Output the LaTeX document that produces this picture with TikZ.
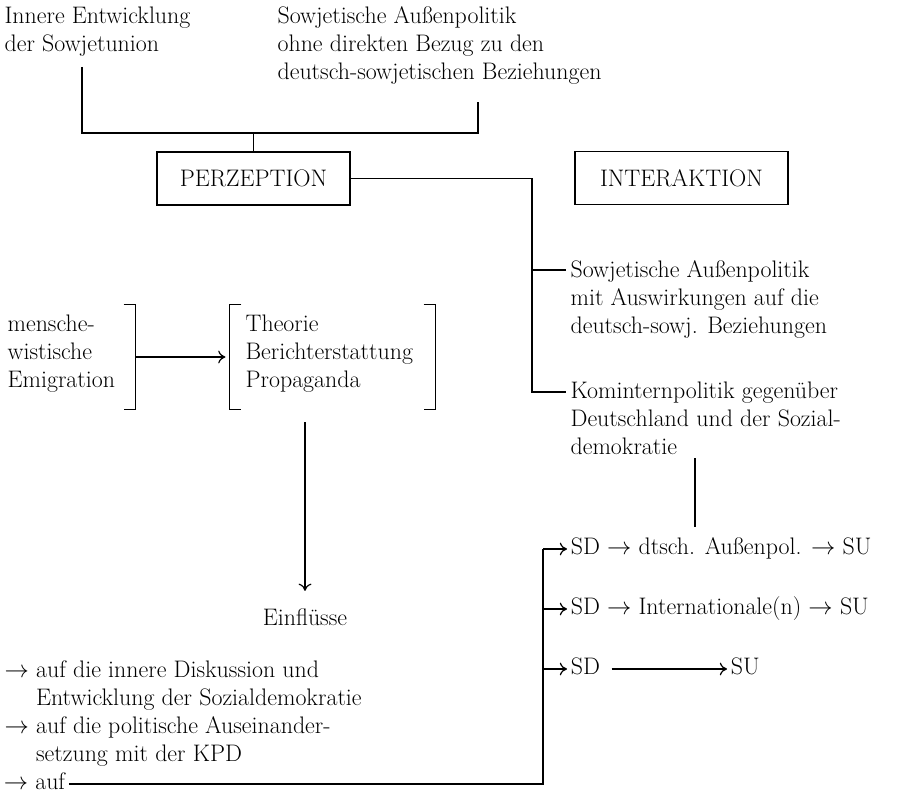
\documentclass[tikz,border=0pt]{standalone}
\usepackage{fontspec}
\usetikzlibrary{arrows.meta,positioning,calc}
\newcommand{\lblfont}{\fontsize{17}{19.9}\selectfont}

\begin{document}
\begin{tikzpicture}[
        line width=0.85pt,
        txt/.style={align=left, inner ysep=0pt, inner xsep=0.1cm, font=\lblfont},
        box/.style={draw, inner sep=0pt, minimum height=1.325cm, font=\lblfont},
        row/.style={inner ysep=0pt, inner xsep=0.08cm, text height=12pt,
            text depth=3.5pt, anchor=west, font=\lblfont},
        frame/.style={inner sep=0pt, minimum height=2.6cm},
        arr/.style={-{To[length=1.8mm, width=3.2mm]}},
    ]
        \useasboundingbox (0,0) rectangle (22.525,-20.125);

        % Sources of perception
        \node[txt, anchor=north west] (inner_dev) at (0,-0.16) {
            Innere Entwicklung\\
            der Sowjetunion
        };
        \node[txt, anchor=north west] (foreign_pol) at (6.825,-0.16) {
            Sowjetische Außenpolitik\\
            ohne direkten Bezug zu den\\
            deutsch-sowjetischen Beziehungen
        };

        % Main boxes
        \node[box, minimum width=4.825cm] (perz) at (6.3375,-4.4625) {PERZEPTION};
        \node[box, minimum width=5.325cm] (inter) at (17.0375,-4.45) {INTERAKTION};

        \coordinate (inner_foot) at (2.05,-1.675);
        \coordinate (foreign_foot) at (11.95,-2.55);
        \coordinate (join) at (6.3375,-3.325);
        \draw (inner_foot) |- (join) -| (foreign_foot);
        \draw (join) -- (perz.north);

        % Interaction side
        \node[txt, anchor=north west] (soviet_ext) at (14.15,-6.5) {
            Sowjetische Außenpolitik\\
            mit Auswirkungen auf die\\
            deutsch-sowj. Beziehungen
        };
        \node[txt, anchor=north west] (komintern) at (14.15,-9.525) {
            Kominternpolitik gegenüber\\
            Deutschland und der Sozial-\\
            demokratie
        };

        \coordinate (trunk) at (13.3,-9.8);
        \coordinate (branch) at (13.3,-6.75);
        \draw (perz.east) -| (trunk) -- (trunk -| komintern.west);
        \draw (branch) -- (branch -| soviet_ext.west);

        % Emigration and media
        \node[frame, minimum width=3.3cm] (emig_frame) at (1.725,-8.925) {};
        \node[frame, minimum width=5.125cm] (media_frame) at (8.3125,-8.925) {};
        \node[txt, anchor=north west] (emig) at (0.075,-7.85) {
            mensche-\\
            wistische\\
            Emigration
        };
        \node[txt, anchor=north west] (media) at (6.025,-7.85) {
            Theorie\\
            Berichterstattung\\
            Propaganda
        };
        \draw ([xshift=-0.3cm]emig_frame.north east) -- (emig_frame.north east)
            -- (emig_frame.south east) -- ++(-0.3,0);
        \draw ([xshift=0.3cm]media_frame.north west) -- (media_frame.north west)
            -- (media_frame.south west) -- ++(0.3,0);
        \draw ([xshift=-0.3cm]media_frame.north east) -- (media_frame.north east)
            -- (media_frame.south east) -- ++(-0.3,0);
        \draw[arr] (emig_frame.east) -- ([xshift=-0.1cm]media_frame.west);

        % Influences
        \node[txt, anchor=base] (einfl) at (7.625,-15.625) {Einflüsse};
        \coordinate (media_foot) at (7.625,-10.55);
        \draw[arr] (media_foot) -- ([yshift=0.42cm]einfl.north);

        \node[txt, anchor=north west] (infl_list) at (0,-16.5) {
            $\rightarrow$ auf die innere Diskussion und\\
            \phantom{$\rightarrow$} Entwicklung der Sozialdemokratie\\
            $\rightarrow$ auf die politische Auseinander-\\
            \phantom{$\rightarrow$} setzung mit der KPD
        };
        \node[row] (auf) at (0,-19.6) {$\rightarrow$ auf};

        % Channels SD -> SU
        \node[row] (row1) at (14.175,-13.725) {SD $\rightarrow$ dtsch. Außenpol. $\rightarrow$ SU};
        \node[row] (row2) at (14.175,-15.225) {SD $\rightarrow$ Internationale(n) $\rightarrow$ SU};
        \node[row] (sd3) at (14.175,-16.725) {SD};
        \node[row] (su3) at (18.175,-16.725) {SU};

        \coordinate (kom_end) at (17.375,-11.45);
        \draw[shorten >=0.275cm] (kom_end) -- (kom_end |- row1.north);

        \coordinate (rail) at (13.575,0);
        \draw (auf.east) -| (rail |- row1.west);
        \foreach \r in {row1,row2,sd3}
            \draw[arr] (rail |- \r.west) -- (\r.west);
        \draw[arr] ([xshift=0.2cm]sd3.east) -- (su3.west);
\end{tikzpicture}
\end{document}
